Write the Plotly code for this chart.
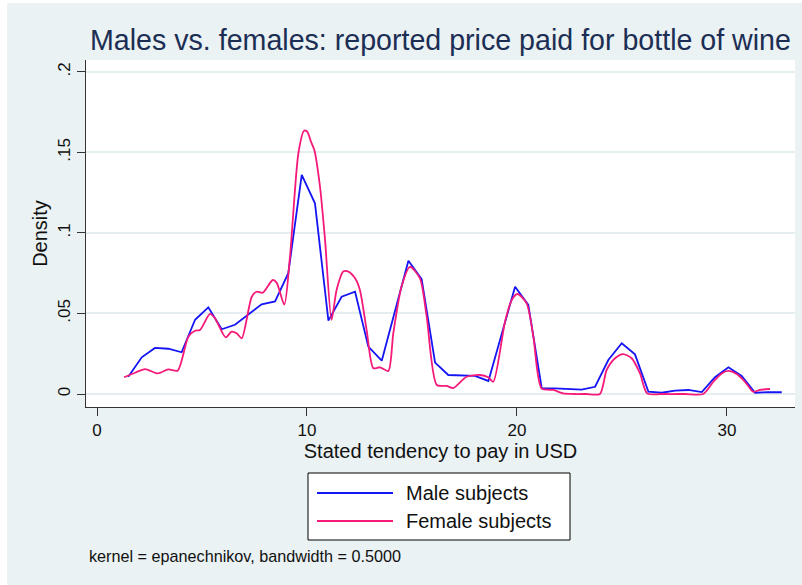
import plotly.graph_objects as go

# ---- data ----
male_x = [1.49, 2.13, 2.76, 3.40, 4.03, 4.67, 5.30, 5.94, 6.57, 7.21,
          7.84, 8.48, 9.11, 9.75, 10.38, 11.02, 11.65, 12.29, 12.92, 13.56,
          14.19, 14.83, 15.46, 16.10, 16.73, 17.37, 18.00, 18.64, 19.27, 19.91,
          20.54, 21.18, 21.81, 22.45, 23.08, 23.72, 24.35, 24.99, 25.62, 26.26,
          26.89, 27.53, 28.16, 28.80, 29.43, 30.07, 30.70, 31.34, 31.97, 32.61]
male_y = [0.0107, 0.0228, 0.0286, 0.0281, 0.0259, 0.0461, 0.0538, 0.0402, 0.0430, 0.0493,
          0.0557, 0.0575, 0.0750, 0.1360, 0.1184, 0.0456, 0.0604, 0.0635, 0.0294, 0.0207,
          0.0509, 0.0828, 0.0714, 0.0195, 0.0118, 0.0116, 0.0112, 0.0081, 0.0375, 0.0666,
          0.0553, 0.0035, 0.0035, 0.0033, 0.0027, 0.0045, 0.0211, 0.0315, 0.0246, 0.0014,
          0.0008, 0.0021, 0.0025, 0.0012, 0.0104, 0.0166, 0.0112, 0.0008, 0.0012, 0.0011]

female_x = [1.29, 1.81, 2.29, 2.89, 3.40, 3.84, 4.35, 4.67, 4.90, 5.38,
            5.62, 6.13, 6.41, 6.65, 6.89, 7.37, 7.60, 7.89, 8.37, 8.56,
            8.92, 9.19, 9.59, 9.86, 10.01, 10.19, 10.35, 10.62, 10.86, 11.17,
            11.41, 11.73, 11.97, 12.29, 12.52, 12.84, 13.16, 13.48, 13.87, 14.11,
            14.50, 14.90, 15.38, 15.70, 16.18, 16.65, 16.97, 17.60, 18.24, 18.63,
            18.87, 19.43, 19.75, 20.02, 20.46, 20.78, 21.17, 21.73, 22.20, 22.70,
            23.30, 23.95, 24.27, 24.67, 25.06, 25.46, 25.86, 26.20, 27.00, 28.00,
            28.87, 29.35, 29.75, 30.06, 30.46, 30.86, 31.25, 31.57, 32.05]
female_y = [0.0104, 0.0132, 0.0155, 0.0128, 0.0153, 0.0145, 0.0356, 0.0393, 0.0397, 0.0497,
            0.0470, 0.0352, 0.0387, 0.0377, 0.0346, 0.0604, 0.0635, 0.0629, 0.0708, 0.0690,
            0.0555, 0.0853, 0.1495, 0.1635, 0.1629, 0.1567, 0.1515, 0.1287, 0.0956, 0.0460,
            0.0646, 0.0760, 0.0760, 0.0718, 0.0646, 0.0397, 0.0160, 0.0166, 0.0143, 0.0377,
            0.0666, 0.0790, 0.0718, 0.0480, 0.0056, 0.0050, 0.0037, 0.0107, 0.0118, 0.0104,
            0.0076, 0.0449, 0.0584, 0.0621, 0.0563, 0.0356, 0.0035, 0.0025, 0.0004, 0.0,
            0.0, 0.0, 0.0149, 0.0222, 0.0248, 0.0222, 0.0128, 0.0004, 0.0, 0.0,
            0.0, 0.0076, 0.0128, 0.0143, 0.0124, 0.0076, 0.0014, 0.0025, 0.0031]

x_ticks = [0, 10, 20, 30]
y_ticks = [0, 0.05, 0.1, 0.15, 0.2]
y_tick_text = ["0", ".05", ".1", ".15", ".2"]
series_names = ["Male subjects", "Female subjects"]

BLUE = "#1414F5"
PINK = "#F5197A"
BG = "#EAF2F3"
FONT = "Liberation Sans, Arial, Helvetica, sans-serif"

fig = go.Figure()
fig.add_trace(go.Scatter(x=male_x, y=male_y, mode="lines", name=series_names[0],
                         line=dict(color=BLUE, width=1.8)))
fig.add_trace(go.Scatter(x=female_x, y=female_y, mode="lines", name=series_names[1],
                         line=dict(color=PINK, width=1.8, shape="spline", smoothing=0.7)))

W, H = 802, 585
L, R, T, B = 86, 7, 60, 178
PW, PH = W - L - R, H - T - B


def px(xp):
    return (xp - L) / PW


def py(yp):
    return (H - B - yp) / PH


shapes = [
    # white strips at the top-left edge of the page
    dict(type="rect", xref="paper", yref="paper", x0=px(0), x1=px(7), y0=py(585), y1=py(0),
         fillcolor="white", line=dict(width=0), layer="above"),
    dict(type="rect", xref="paper", yref="paper", x0=px(0), x1=px(802), y0=py(3), y1=py(0),
         fillcolor="white", line=dict(width=0), layer="above"),
    # legend box
    dict(type="rect", xref="paper", yref="paper", x0=px(308), x1=px(570), y0=py(540), y1=py(473),
         fillcolor="white", line=dict(color="black", width=1), layer="above"),
    dict(type="line", xref="paper", yref="paper", x0=px(317), x1=px(393), y0=py(493), y1=py(493),
         line=dict(color=BLUE, width=1.8), layer="above"),
    dict(type="line", xref="paper", yref="paper", x0=px(317), x1=px(393), y0=py(521), y1=py(521),
         line=dict(color=PINK, width=1.8), layer="above"),
]

annotations = [
    dict(text=series_names[0], xref="paper", yref="paper", x=px(404), y=py(493),
         xanchor="left", yanchor="middle", showarrow=False, font=dict(size=20, color="#111")),
    dict(text=series_names[1], xref="paper", yref="paper", x=px(404), y=py(521),
         xanchor="left", yanchor="middle", showarrow=False, font=dict(size=20, color="#111")),
    dict(text="kernel = epanechnikov, bandwidth = 0.5000", xref="paper", yref="paper",
         x=px(87), y=py(556), xanchor="left", yanchor="middle", showarrow=False,
         font=dict(size=16.2, color="#111")),
]

fig.update_layout(
    width=W, height=H,
    margin=dict(l=L, r=R, t=T, b=B),
    paper_bgcolor=BG, plot_bgcolor="white",
    showlegend=False,
    font=dict(family=FONT, size=17, color="#111"),
    title=dict(text="Males vs. females: reported price paid for bottle of wine",
               x=(L + PW / 2) / W, xanchor="center", y=1 - 40 / H, yanchor="middle",
               font=dict(size=28.6, color="#1C2E54")),
    xaxis=dict(range=[-0.524, 33.24], tickvals=x_ticks, ticks="outside", ticklen=8,
               tickcolor="#333", tickwidth=1, showline=True, linecolor="#333", linewidth=1,
               showgrid=False, zeroline=False,
               title=dict(text="Stated tendency to pay in USD", standoff=4),
               tickfont=dict(size=17)),
    yaxis=dict(range=[-0.00807, 0.2074], tickvals=y_ticks, ticktext=y_tick_text,
               tickangle=-90, ticks="outside", ticklen=8, tickcolor="#333", tickwidth=1,
               showline=True, linecolor="#333", linewidth=1,
               showgrid=True, gridcolor="#E4EDEF", gridwidth=1.5, zeroline=False,
               title=dict(text="Density", standoff=2),
               tickfont=dict(size=17)),
    shapes=shapes,
    annotations=annotations,
)

fig.write_html("out.html", config={"displayModeBar": False},
               post_script="document.body.style.margin='0px';document.body.style.overflow='hidden';")
